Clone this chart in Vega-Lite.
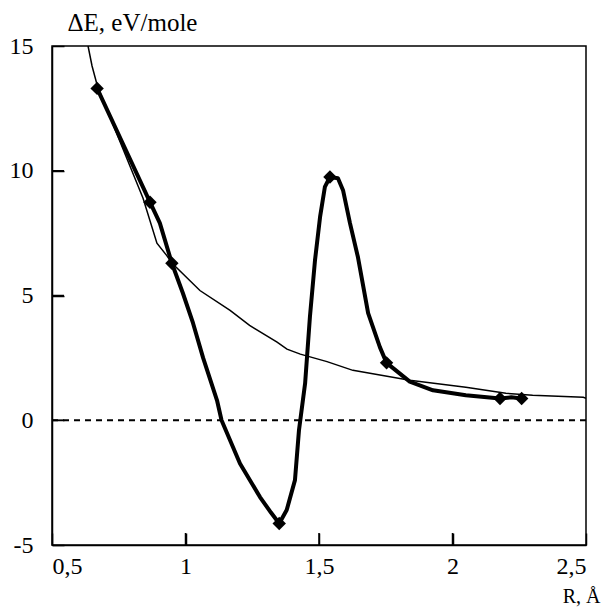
{
  "$schema": "https://vega.github.io/schema/vega-lite/v6.json",
  "width": 534,
  "height": 499,
  "autosize": "none",
  "padding": {"left": 52, "top": 46, "right": 19, "bottom": 63},
  "background": "white",
  "config": {
    "view": {"stroke": "black", "strokeWidth": 1.5},
    "font": "Liberation Serif",
    "axis": {
      "labelFont": "Liberation Serif",
      "labelFontSize": 24,
      "labelColor": "black",
      "titleFont": "Liberation Serif",
      "titleFontWeight": "normal",
      "titleColor": "black",
      "domainColor": "black",
      "domainWidth": 1.5,
      "tickColor": "black",
      "tickWidth": 1.5,
      "grid": false
    }
  },
  "datasets": {
    "thin": [
      {"R": 0.635, "E": 15.0},
      {"R": 0.65, "E": 14.2},
      {"R": 0.67, "E": 13.4},
      {"R": 0.841, "E": 8.9},
      {"R": 0.893, "E": 7.1},
      {"R": 0.93, "E": 6.6},
      {"R": 0.949, "E": 6.3},
      {"R": 1.054, "E": 5.2},
      {"R": 1.167, "E": 4.4},
      {"R": 1.24, "E": 3.8},
      {"R": 1.343, "E": 3.13},
      {"R": 1.38, "E": 2.85},
      {"R": 1.43, "E": 2.65},
      {"R": 1.53, "E": 2.35},
      {"R": 1.627, "E": 2.0},
      {"R": 1.84, "E": 1.6},
      {"R": 2.05, "E": 1.32},
      {"R": 2.2, "E": 1.08},
      {"R": 2.3, "E": 1.0},
      {"R": 2.49, "E": 0.92},
      {"R": 2.5, "E": 0.88}
    ],
    "thick": [
      {"R": 0.669, "E": 13.3},
      {"R": 0.867, "E": 8.74},
      {"R": 0.904, "E": 7.9},
      {"R": 0.949, "E": 6.29},
      {"R": 0.99, "E": 5.1},
      {"R": 1.028, "E": 3.9},
      {"R": 1.066, "E": 2.5},
      {"R": 1.118, "E": 0.8},
      {"R": 1.135, "E": 0.0},
      {"R": 1.204, "E": -1.73},
      {"R": 1.279, "E": -3.08},
      {"R": 1.32, "E": -3.7},
      {"R": 1.351, "E": -4.14},
      {"R": 1.379, "E": -3.6},
      {"R": 1.41, "E": -2.4},
      {"R": 1.425, "E": -0.4},
      {"R": 1.448, "E": 1.48},
      {"R": 1.466, "E": 4.14},
      {"R": 1.485, "E": 6.41},
      {"R": 1.504, "E": 8.15},
      {"R": 1.522, "E": 9.35},
      {"R": 1.541, "E": 9.75},
      {"R": 1.571, "E": 9.7},
      {"R": 1.59, "E": 9.22},
      {"R": 1.616, "E": 7.9},
      {"R": 1.646, "E": 6.53},
      {"R": 1.684, "E": 4.29},
      {"R": 1.728, "E": 2.93},
      {"R": 1.753, "E": 2.3},
      {"R": 1.84, "E": 1.55},
      {"R": 1.927, "E": 1.2},
      {"R": 2.05, "E": 1.0},
      {"R": 2.178, "E": 0.87},
      {"R": 2.22, "E": 0.92},
      {"R": 2.259, "E": 0.87}
    ],
    "markers": [
      {"R": 0.669, "E": 13.3},
      {"R": 0.867, "E": 8.74},
      {"R": 0.949, "E": 6.29},
      {"R": 1.351, "E": -4.14},
      {"R": 1.541, "E": 9.75},
      {"R": 1.753, "E": 2.3},
      {"R": 2.178, "E": 0.87},
      {"R": 2.259, "E": 0.87}
    ],
    "xticks": [{"R": 1}, {"R": 1.5}, {"R": 2}],
    "yticks": [{"E": 0}, {"E": 5}, {"E": 10}],
    "zero": [{"E": 0}]
  },
  "layer": [
    {
      "data": {"name": "zero"},
      "mark": {"type": "rule", "color": "black", "strokeWidth": 2, "strokeDash": [6, 5]},
      "encoding": {
        "y": {"field": "E", "type": "quantitative", "scale": {"domain": [-5, 15], "nice": false}}
      }
    },
    {
      "data": {"name": "thin"},
      "mark": {"type": "line", "color": "black", "strokeWidth": 1.5, "clip": true},
      "encoding": {
        "x": {"field": "R", "type": "quantitative",
          "scale": {"domain": [0.5, 2.5], "nice": false, "zero": false},
          "axis": {"values": [0.5, 1, 1.5, 2, 2.5], "ticks": true, "tickSize": -12, "labelPadding": 21,
            "labelExpr": "replace(toString(datum.value), '.', ',')",
            "title": "R, Å", "titleFontSize": 20, "titleAnchor": "end", "titleAlign": "right",
            "titleBaseline": "alphabetic", "titleX": 548, "titleY": 57}},
        "y": {"field": "E", "type": "quantitative",
          "scale": {"domain": [-5, 15], "nice": false},
          "axis": {"values": [-5, 0, 5, 10, 15], "ticks": true, "tickSize": -12, "labelPadding": 31,
            "labelExpr": "toString(datum.value)",
            "title": "ΔE, eV/mole", "titleFontSize": 25, "titleAngle": 0, "titleAlign": "left",
            "titleAnchor": "start", "titleBaseline": "alphabetic", "titleX": 15, "titleY": -16}}
      }
    },
    {
      "data": {"name": "thick"},
      "mark": {"type": "line", "color": "black", "strokeWidth": 4, "strokeJoin": "round", "clip": true},
      "encoding": {
        "x": {"field": "R", "type": "quantitative"},
        "y": {"field": "E", "type": "quantitative"}
      }
    },
    {
      "data": {"name": "markers"},
      "mark": {"type": "point", "shape": "diamond", "filled": true, "color": "black", "size": 180, "opacity": 1},
      "encoding": {
        "x": {"field": "R", "type": "quantitative"},
        "y": {"field": "E", "type": "quantitative"}
      }
    },
    {
      "data": {"name": "xticks"},
      "mark": {"type": "rule", "color": "black", "strokeWidth": 1.5},
      "encoding": {
        "x": {"field": "R", "type": "quantitative"},
        "y": {"datum": -5, "type": "quantitative"},
        "y2": {"datum": -4.52}
      }
    },
    {
      "data": {"name": "yticks"},
      "mark": {"type": "rule", "color": "black", "strokeWidth": 1.5},
      "encoding": {
        "y": {"field": "E", "type": "quantitative"},
        "x": {"datum": 0.5, "type": "quantitative"},
        "x2": {"datum": 0.545}
      }
    }
  ]
}
